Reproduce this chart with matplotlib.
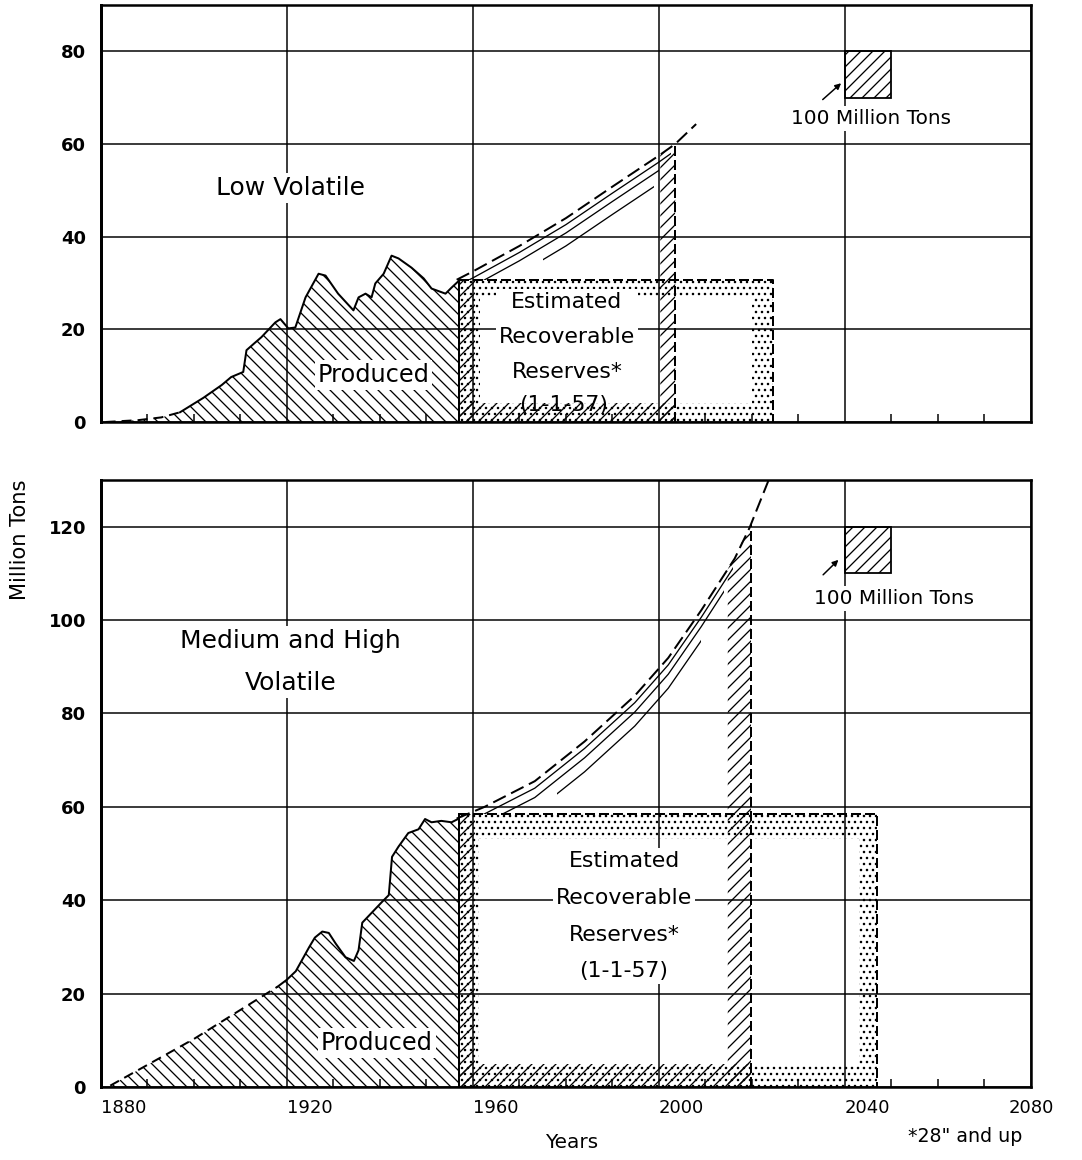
import matplotlib
matplotlib.use("Agg")
import matplotlib.pyplot as plt
import numpy as np
from matplotlib.path import Path
from matplotlib.patches import PathPatch, Rectangle, Polygon

plt.rcParams['font.family'] = ['DejaVu Sans']
plt.rcParams['hatch.linewidth'] = 1.3
plt.rcParams['hatch.color'] = 'black'

# ---- Low volatile (top panel) ----
low_years = [1881, 1888, 1893, 1897, 1902, 1906, 1908, 1910.6, 1911.3, 1913, 1914.5, 1917.5,
             1918.6, 1920.3, 1921.8, 1924, 1926.8, 1928.3, 1931, 1934.3, 1935.4, 1936.9,
             1938.2, 1939, 1940.8, 1942.5, 1944, 1946.8, 1949.4, 1951.1, 1954.1, 1955.4, 1957]
low_prod = [0, 0.4, 1.0, 2.1, 5.2, 8.0, 9.7, 10.8, 15.5, 17.0, 18.3, 21.5,
            22.2, 20.2, 20.4, 26.9, 32.0, 31.6, 27.7, 24.1, 26.9, 27.7,
            26.9, 29.9, 32.0, 35.9, 35.3, 33.3, 31.0, 28.8, 27.7, 29.0, 30.5]
low_dashed_until = 1897
low_proj_years = [1956.5, 1960, 1970, 1980, 1990, 2000, 2003.5, 2008]
low_proj = [30.7, 32.5, 38.0, 44.0, 50.8, 57.5, 60.0, 64.3]
low_box = (1957.0, 2024.5, 30.7)            # reserves: start, end, height
low_inner = (1961.5, 2020.0, 4.0, 26.9)     # blank interior: left, right, bottom, top
low_strip = (2000.3, 2003.5)                # years when reserves run out

# ---- Medium and high volatile (bottom panel) ----
mh_years = [1882, 1900, 1918, 1920, 1921.9, 1924.8, 1926, 1927.6, 1929, 1930.5, 1932.6,
            1934.4, 1935.4, 1936.2, 1938.3, 1940.4, 1941.9, 1942.6, 1944, 1946.1, 1948.3,
            1949.7, 1951.1, 1953.2, 1955.4, 1956.8]
mh_prod = [0.3, 10.3, 21.5, 23.0, 24.8, 30.0, 32.0, 33.3, 33.0, 30.7, 27.8,
           27.0, 29.3, 35.2, 37.4, 39.6, 41.1, 49.3, 51.5, 54.4, 55.2,
           57.4, 56.7, 57.0, 56.7, 57.4]
mh_dashed_until = 1918
mh_proj_years = [1956.5, 1962.5, 1973.3, 1984, 1994.8, 2002, 2009.1, 2016.3, 2019.5, 2023.6]
mh_proj = [57.5, 60.0, 65.5, 74.0, 83.8, 91.9, 102.1, 113.2, 119.8, 130.0]
mh_box = (1957.0, 2047.0, 58.5)
mh_inner = (1961.4, 2043.0, 5.0, 53.2)
mh_strip = (2014.8, 2019.8)

x_ticks = [1880, 1920, 1960, 2000, 2040, 2080]
x_labels = ['1880', '1920', '1960', '2000', '2040', '2080']


def draw_panel(ax, years, prod, dashed_until, pyears, proj, box, inner, strip, strokes):
    x0, x1, h = box
    ix0, ix1, iy0, iy1 = inner
    s0, s1 = strip

    # produced area
    ax.fill_between(years, prod, 0, facecolor='none', edgecolor='black', lw=0,
                    hatch='\\\\', zorder=2)
    yrs = np.array(years)
    pr = np.array(prod)
    k = int(np.searchsorted(yrs, dashed_until)) + 1
    ax.plot(yrs[:k], pr[:k], color='black', lw=2, dashes=(5, 3), zorder=3)
    ax.plot(yrs[k - 1:], pr[k - 1:], color='black', lw=2, zorder=3)
    ax.plot([x0, x0], [0, h], color='black', lw=2, zorder=3)

    # stippled reserve frame
    verts = [(x0, 0), (x1, 0), (x1, h), (x0, h), (x0, 0),
             (ix0, iy0), (ix0, iy1), (ix1, iy1), (ix1, iy0), (ix0, iy0)]
    codes = [Path.MOVETO, Path.LINETO, Path.LINETO, Path.LINETO, Path.CLOSEPOLY] * 2
    ax.add_patch(PathPatch(Path(verts, codes), facecolor='none', edgecolor='black',
                           lw=0, hatch='..', zorder=2))
    ax.plot([x0, x1, x1], [h, h, 0], color='black', lw=2, dashes=(5, 2), zorder=3)

    # hatched area still to be produced
    kw = dict(facecolor='none', edgecolor='black', lw=0, hatch='//', zorder=2)
    top0 = np.interp(s0, pyears, proj)
    top1 = np.interp(s1, pyears, proj)
    ax.add_patch(Rectangle((x0, 0), s1 - x0, iy0, **kw))
    ax.add_patch(Rectangle((x0, 0), 3.5, h, **kw))
    ax.add_patch(Polygon([(s0, 0), (s1, 0), (s1, top1), (s0, top0)], **kw))
    ax.plot([s1, s1], [0, top1], color='black', lw=2, dashes=(5, 2), zorder=3)

    # projection
    ax.plot(pyears, proj, color='black', lw=2, dashes=(7, 3), zorder=3)
    for off, a, b in strokes:
        ln, = ax.plot(pyears, np.array(proj) - off, color='black', lw=1.3, zorder=3)
        ln.set_clip_path(Rectangle((a, h), b - a, 300, transform=ax.transData))


def style_axis(ax, ymax, show_x):
    ax.set_xlim(1880, 2080)
    ax.set_ylim(0, ymax)
    ax.set_axisbelow(True)
    ax.grid(True, which='major', color='black', lw=1.5)
    ax.set_xticks(x_ticks)
    ax.set_xticks([t for t in range(1890, 2080, 10) if t % 40 != 0], minor=True)
    ax.set_yticks(range(0, ymax, 20))
    ax.tick_params(which='major', length=0)
    ax.tick_params(axis='x', which='minor', direction='in', length=8, width=1.5)
    ax.tick_params(axis='y', which='major', pad=15, labelsize=18)
    for lab in ax.get_yticklabels():
        lab.set_fontweight('bold')
    if show_x:
        ax.set_xticklabels(x_labels, fontsize=18)
        ax.tick_params(axis='x', which='major', pad=12)
        labs = ax.get_xticklabels()
        for lab in labs[:-1]:
            lab.set_horizontalalignment('left')
    else:
        ax.set_xticklabels([])
    for sp in ax.spines.values():
        sp.set_linewidth(2.5)
    ax.spines['left'].set_linewidth(3)


def main():
    fig = plt.figure(figsize=(1082 / 72, 1160 / 72), dpi=72)
    ax1 = fig.add_axes([0.0933, 0.6362, 0.8595, 0.3595])
    ax2 = fig.add_axes([0.0933, 0.0629, 0.8595, 0.5233])

    white = dict(facecolor='white', edgecolor='none', pad=3)

    # top panel
    draw_panel(ax1, low_years, low_prod, low_dashed_until, low_proj_years, low_proj,
               low_box, low_inner, low_strip,
               [(1.4, 1958.5, 2002.5), (3.2, 1962, 2000), (6.0, 1975, 1999)])
    style_axis(ax1, 90, False)
    ax1.text(1920.7, 50.5, 'Low Volatile', ha='center', va='center', fontsize=25, bbox=white, zorder=5)
    ax1.text(1938.6, 10.1, 'Produced', ha='center', va='center', fontsize=24, bbox=white, zorder=5)
    ax1.text(1980.2, 18.3, 'Estimated\nRecoverable\nReserves*', ha='center', va='center',
             fontsize=22, linespacing=1.95, bbox=white, zorder=5)
    ax1.text(1979.5, 3.7, '(1-1-57)', ha='center', va='center', fontsize=22, zorder=5)
    ax1.add_patch(Rectangle((2040, 70), 10, 10, facecolor='none', edgecolor='black', lw=1.8,
                            hatch='//', zorder=4))
    ax1.annotate('', xy=(2039.5, 73.4), xytext=(2034.9, 69.3),
                 arrowprops=dict(arrowstyle='-|>', lw=1.5, color='black', mutation_scale=12))
    ax1.text(2045.7, 65.6, '100 Million Tons', ha='center', va='center', fontsize=20, bbox=white, zorder=5)

    # bottom panel
    draw_panel(ax2, mh_years, mh_prod, mh_dashed_until, mh_proj_years, mh_proj,
               mh_box, mh_inner, mh_strip,
               [(1.5, 1960, 2016), (3.5, 1962, 2014), (6.5, 1978, 2009)])
    style_axis(ax2, 130, True)
    ax2.text(1920.7, 91.0, 'Medium and High\nVolatile', ha='center', va='center', fontsize=25,
             linespacing=1.95, bbox=white, zorder=5)
    ax2.text(1939.3, 9.4, 'Produced', ha='center', va='center', fontsize=24, bbox=white, zorder=5)
    ax2.text(1992.5, 36.6, 'Estimated\nRecoverable\nReserves*\n(1-1-57)', ha='center', va='center',
             fontsize=22, linespacing=2.05, bbox=white, zorder=5)
    ax2.add_patch(Rectangle((2040, 110), 10, 10, facecolor='none', edgecolor='black', lw=1.8,
                            hatch='//', zorder=4))
    ax2.annotate('', xy=(2038.9, 113.2), xytext=(2035.0, 109.4),
                 arrowprops=dict(arrowstyle='-|>', lw=1.5, color='black', mutation_scale=12))
    ax2.text(2050.5, 104.7, '100 Million Tons', ha='center', va='center', fontsize=20, bbox=white, zorder=5)

    fig.text(20 / 1082, 1 - 540 / 1160, 'Million Tons', rotation=90, ha='center', va='center', fontsize=21)
    fig.text(572 / 1082, 1 - 1143 / 1160, 'Years', ha='center', va='center', fontsize=20)
    fig.text(965 / 1082, 1 - 1137 / 1160, '*28" and up', ha='center', va='center', fontsize=19)

    fig.savefig('out.png', dpi=72)


if __name__ == "__main__":
    main()
